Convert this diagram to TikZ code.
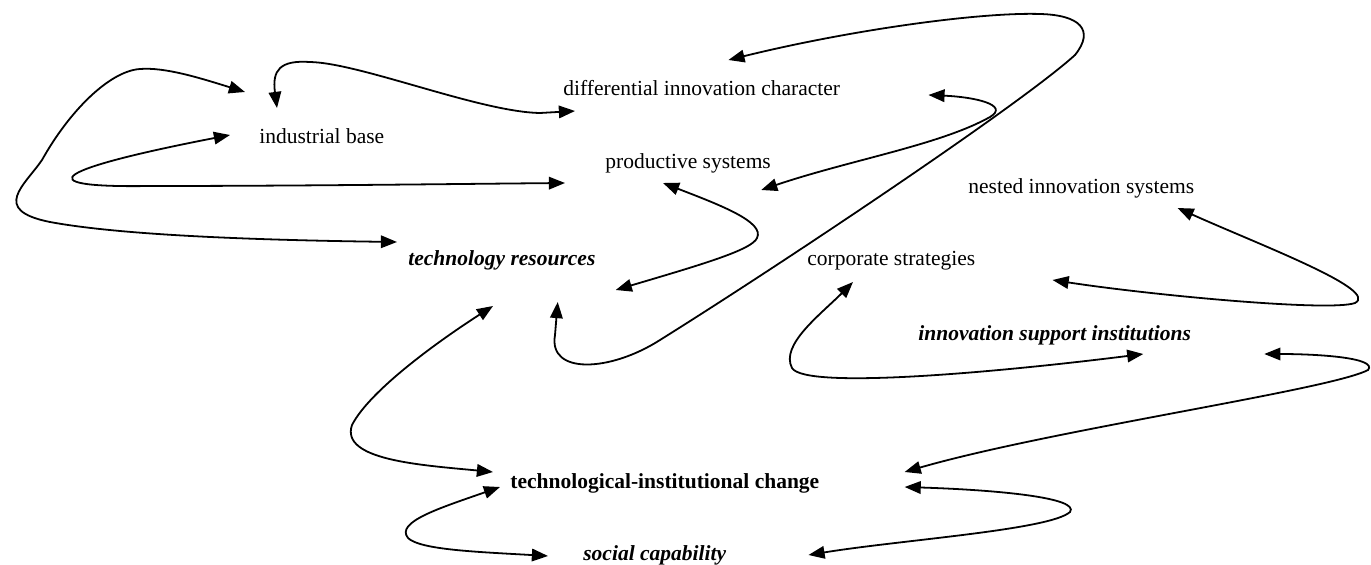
\documentclass[tikz,border=0pt]{standalone}
\usepackage{fontspec}
\setmainfont{Liberation Serif}
\usetikzlibrary{arrows.meta}

\begin{document}
\begin{tikzpicture}[x=0.0196cm,y=-0.0196cm,
  >={Triangle[length=9pt,width=7pt]},
  every node/.style={inner sep=0pt,anchor=west,text height=1.5ex,text depth=.25ex,font=\fontsize{12}{14}\selectfont},
  key/.style={font=\fontsize{12}{14}\selectfont\bfseries\itshape},
  link/.style={<->,line width=1pt}]
\useasboundingbox (0,0) rectangle (1371,565);

\node (ib) at (259,138) {industrial base};
\node (dic) at (563,90) {differential innovation character};
\node (ps) at (605,163) {productive systems};
\node (nis) at (968,188) {nested innovation systems};
\node[key] (tr) at (408,260) {technology resources};
\node (cs) at (807,260) {corporate strategies};
\node[key] (isi) at (918,335) {innovation support institutions};
\node[font=\fontsize{12}{14}\selectfont\bfseries] (tic) at (510,483) {technological-institutional change};
\node[key] (sc) at (583,555) {social capability};

\draw[link] ([shift={(-14,-46)}]ib.west) .. controls (200,78) and (165,67) .. (140,69) .. controls (110,71) and (70,110) .. (42,160) .. controls (25,185) and (-10,210) .. (50,222) .. controls (120,235) and (250,240) .. ([shift={(-11,-18)}]tr.west);
\draw[link] ([shift={(-29,-3)}]ib.west) .. controls (60,168) and (20,188) .. (150,186) .. controls (300,186) and (450,184) .. ([shift={(-40,20)}]ps.west);
\draw[link] ([shift={(18,-30)}]ib.west) .. controls (272,70) and (280,60) .. (310,62) .. controls (360,63) and (480,112) .. (540,113) -- ([shift={(12,21)}]dic.west);
\draw[link] ([shift={(-112,-30)}]dic.east) .. controls (850,30) and (980,12) .. (1040,14) .. controls (1080,15) and (1095,30) .. (1075,55) .. controls (1020,105) and (780,265) .. (660,340) .. controls (610,372) and (548,375) .. (555,335) -- ([shift={(-38,42)}]tr.east);
\draw[link] ([shift={(88,5)}]dic.east) .. controls (975,97) and (1010,105) .. (990,117) .. controls (940,145) and (850,160) .. ([shift={(-10,27)}]ps.east);
\draw[link] ([shift={(58,20)}]ps.west) .. controls (720,205) and (765,222) .. (757,238) .. controls (752,250) and (700,265) .. ([shift={(20,30)}]tr.east);
\draw[link] ([shift={(85,46)}]tr.west) .. controls (440,340) and (370,390) .. (352,425) .. controls (340,460) and (420,465) .. ([shift={(-17,-11)}]tic.west);
\draw[link] ([shift={(-10,4)}]tic.west) .. controls (440,508) and (395,522) .. (408,538) .. controls (420,550) and (480,552) .. ([shift={(-35,1)}]sc.west);
\draw[link] ([shift={(85,4)}]tic.east) .. controls (1000,490) and (1080,498) .. (1070,512) .. controls (1050,530) and (900,540) .. ([shift={(82,0)}]sc.east);
\draw[link] ([shift={(73,19)}]isi.east) .. controls (1320,354) and (1378,358) .. (1368,370) .. controls (1330,390) and (1050,430) .. ([shift={(85,-11)}]tic.east);
\draw[link] ([shift={(46,22)}]cs.west) .. controls (820,315) and (780,345) .. (792,368) .. controls (805,390) and (1000,372) .. ([shift={(-48,19)}]isi.east);
\draw[link] ([shift={(-17,20)}]nis.east) .. controls (1260,245) and (1380,290) .. (1355,303) .. controls (1330,312) and (1150,295) .. ([shift={(77,20)}]cs.east);
\end{tikzpicture}
\end{document}
